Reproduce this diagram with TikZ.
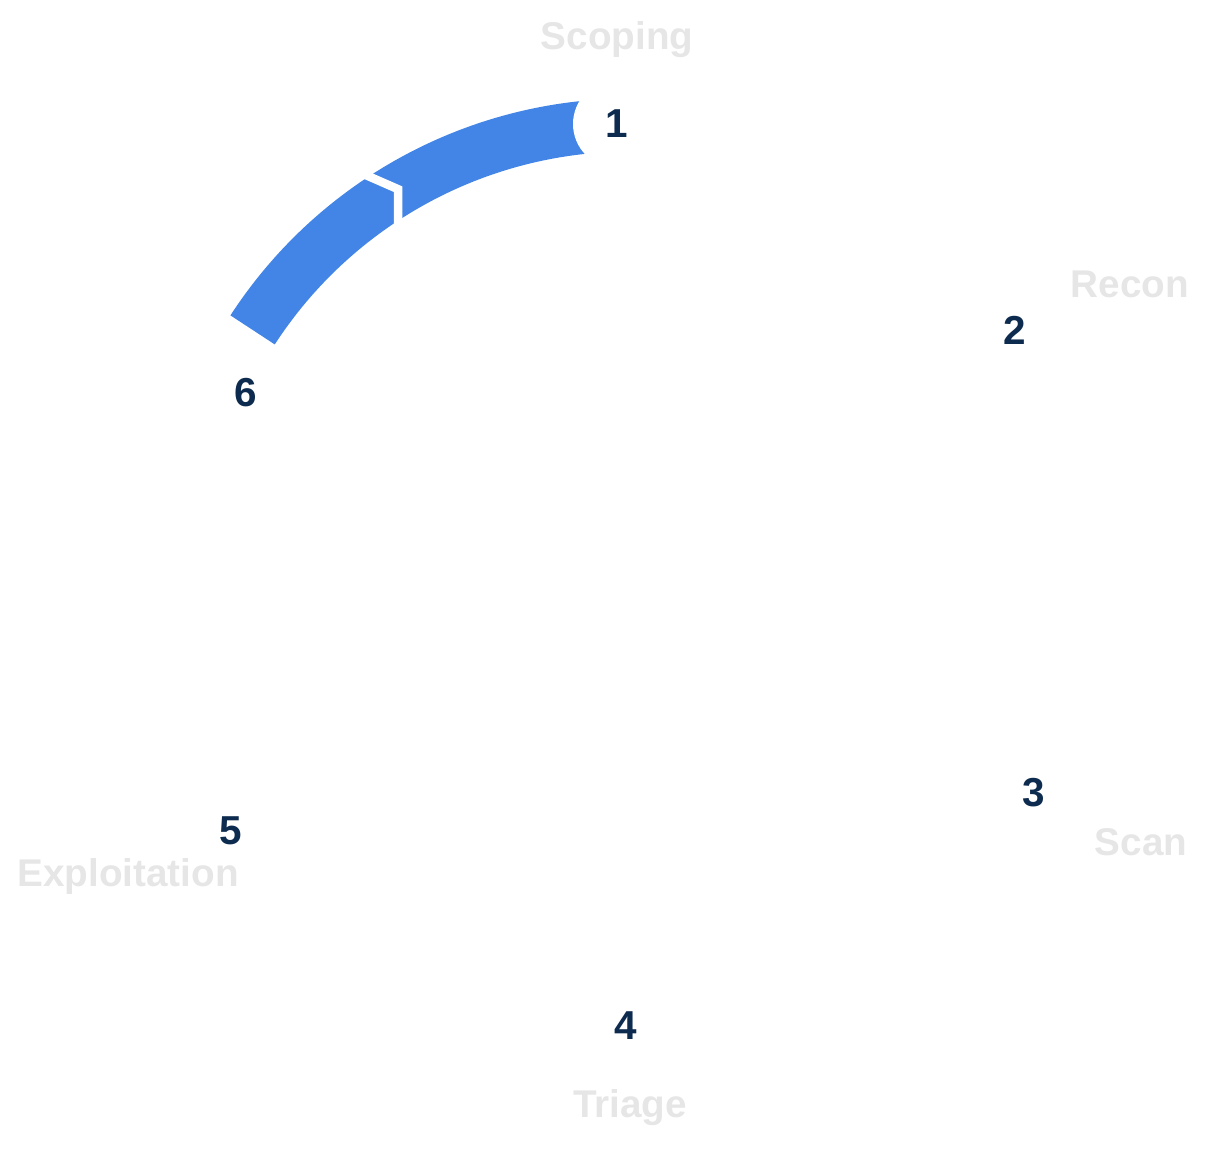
\documentclass[tikz,border=0pt]{standalone}
\usepackage{fontspec}
\setmainfont{Liberation Sans}
\definecolor{band}{HTML}{4285E6}
\definecolor{num}{HTML}{0D2B4E}
\definecolor{lab}{HTML}{E6E6E6}
\begin{document}
\begin{tikzpicture}
\useasboundingbox (0,0) rectangle (24.26,23.02);
\tikzset{numb/.style={font=\bfseries\fontsize{23}{26}\selectfont, text=num},
 labl/.style={font=\bfseries\fontsize{22}{26}\selectfont, text=lab},
 cut/.style={fill=white, draw=none}}
\coordinate (c) at (12.6,11.52);
\draw[band, line width=1.06cm] ([shift={(94:9)}]c) arc[start angle=94, end angle=147, radius=9];
\draw[white, line width=0.17cm, line join=miter] ([shift={(123.5:9.6)}]c) -- ([shift={(121:9)}]c) -- ([shift={(123.5:8.4)}]c);
\fill[cut] (12.34,20.54) circle (0.88);
\fill[cut] (4.92,15.16) circle (0.94);
\node[numb] (n1) at (12.34,20.54) {1};
\node[numb] (n2) at (20.30,16.42) {2};
\node[numb] (n3) at (20.68,7.16) {3};
\node[numb] (n4) at (12.52,2.50) {4};
\node[numb] (n5) at (4.62,6.40) {5};
\node[numb] (n6) at (4.92,15.16) {6};
\node[labl] (l1) at (12.34,22.22) {Scoping};
\node[labl] (l2) at (22.60,17.34) {Recon};
\node[labl] (l3) at (22.82,6.18) {Scan};
\node[labl] (l4) at (12.60,0.86) {Triage};
\node[labl] (l5) at (2.56,5.50) {Exploitation};
\end{tikzpicture}
\end{document}
